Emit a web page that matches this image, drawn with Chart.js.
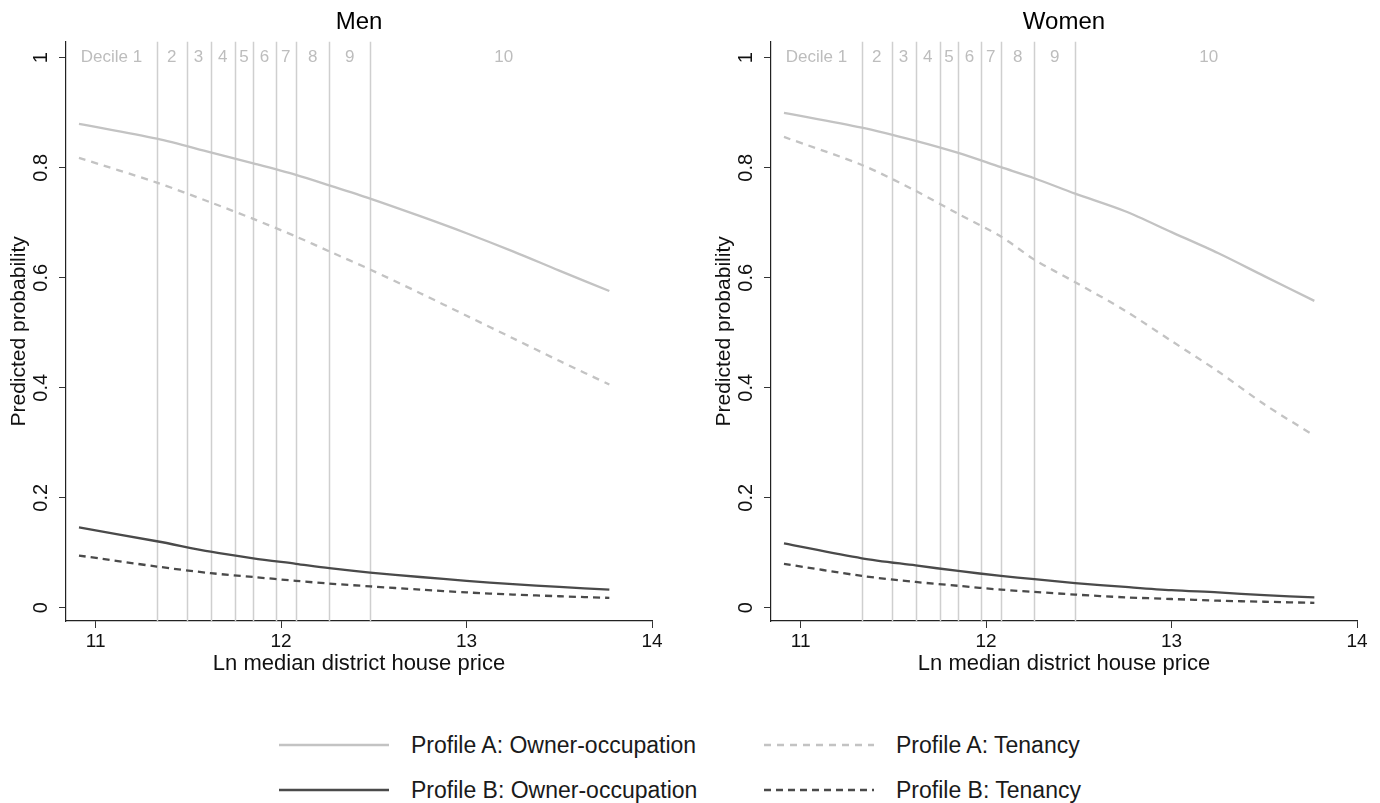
<!DOCTYPE html>
<html>
<head>
<meta charset="utf-8">
<script src="https://cdn.jsdelivr.net/npm/chart.js@4/dist/chart.umd.min.js"></script>
<style>
  html, body { margin: 0; padding: 0; background: #fff; }
  body { width: 1380px; height: 803px; position: relative; overflow: hidden; font-family: "Liberation Sans", Arial, sans-serif; }
  .panel { position: absolute; top: 0; width: 675px; height: 690px; }
  #legend { position: absolute; left: 0; top: 720px; width: 1380px; height: 83px; }
  .item { position: absolute; font-size: 23px; color: #1a1a1a; line-height: 26px; white-space: nowrap; }
  .item svg { position: absolute; left: -133px; top: 3px; }
</style>
</head>
<body>
<div class="panel" style="left:0"><canvas id="men"></canvas></div>
<div class="panel" style="left:705px"><canvas id="women"></canvas></div>
<div id="legend"></div>
<script>
// x values (ln median district house price) where the curves were read
const xs = [10.91, 11.33, 11.62, 11.85, 12.08, 12.26, 12.48, 12.75, 13.0, 13.25, 13.5, 13.77];

// Men
const menAOwner  = [0.880, 0.853, 0.828, 0.808, 0.787, 0.768, 0.744, 0.712, 0.681, 0.648, 0.613, 0.576];
const menATenant = [0.818, 0.773, 0.737, 0.707, 0.675, 0.648, 0.615, 0.572, 0.531, 0.490, 0.449, 0.406];
const menBOwner  = [0.146, 0.121, 0.102, 0.090, 0.080, 0.072, 0.064, 0.056, 0.049, 0.043, 0.038, 0.033];
const menBTenant = [0.095, 0.075, 0.063, 0.056, 0.049, 0.044, 0.039, 0.033, 0.028, 0.024, 0.021, 0.018];

// Women
const womenAOwner  = [0.900, 0.873, 0.849, 0.827, 0.801, 0.781, 0.753, 0.721, 0.683, 0.645, 0.603, 0.558];
const womenATenant = [0.856, 0.805, 0.758, 0.716, 0.675, 0.633, 0.592, 0.540, 0.485, 0.430, 0.370, 0.313];
const womenBOwner  = [0.117, 0.090, 0.077, 0.067, 0.058, 0.052, 0.045, 0.038, 0.032, 0.028, 0.023, 0.019];
const womenBTenant = [0.080, 0.058, 0.047, 0.040, 0.033, 0.029, 0.024, 0.019, 0.016, 0.013, 0.011, 0.009];

// decile boundaries and their labels
const decileCuts = [11.33, 11.49, 11.62, 11.75, 11.85, 11.97, 12.08, 12.26, 12.48];
const decileEdges = [10.84, ...decileCuts, 13.92];
const decileLabels = ['Decile 1', '2', '3', '4', '5', '6', '7', '8', '9', '10'];

const xTicks = [11, 12, 13, 14];
const yTicks = [0, 0.2, 0.4, 0.6, 0.8, 1];

const seriesNames = ['Profile A: Owner-occupation', 'Profile A: Tenancy', 'Profile B: Owner-occupation', 'Profile B: Tenancy'];
const LIGHT = '#c3c3c3';
const DARK = '#4a4a4a';
const styles = [
    { color: LIGHT, dash: [] },
    { color: LIGHT, dash: [7, 6] },
    { color: DARK, dash: [] },
    { color: DARK, dash: [7, 5] }
];

const FONT = '"Liberation Sans", Arial, sans-serif';

// vertical decile lines + labels
const decilePlugin = {
    id: 'deciles',
    beforeDatasetsDraw(chart) {
        const { ctx, chartArea, scales } = chart;
        ctx.save();
        ctx.strokeStyle = '#cfcfcf';
        ctx.lineWidth = 1.5;
        decileCuts.forEach(v => {
            const px = Math.round(scales.x.getPixelForValue(v)) + 0.5;
            ctx.beginPath();
            ctx.moveTo(px, chartArea.top);
            ctx.lineTo(px, chartArea.bottom);
            ctx.stroke();
        });
        ctx.fillStyle = '#bdbdbd';
        ctx.font = '17px ' + FONT;
        ctx.textAlign = 'center';
        ctx.textBaseline = 'middle';
        const ty = scales.y.getPixelForValue(1);
        decileLabels.forEach((lab, i) => {
            const mid = (decileEdges[i] + decileEdges[i + 1]) / 2;
            ctx.fillText(lab, scales.x.getPixelForValue(mid), ty);
        });
        ctx.restore();
    }
};

function makeChart(id, title, series) {
    const datasets = series.map((arr, i) => ({
        label: seriesNames[i],
        data: xs.map((x, j) => ({ x: x, y: arr[j] })),
        borderColor: styles[i].color,
        borderDash: styles[i].dash,
        borderWidth: 2.3,
        pointRadius: 0,
        tension: 0.3,
        fill: false
    }));

    return new Chart(document.getElementById(id), {
        type: 'line',
        data: { datasets },
        options: {
            responsive: false,
            animation: false,
            layout: { padding: { left: 7, right: 23, top: 0, bottom: 13 } },
            plugins: {
                legend: { display: false },
                tooltip: { enabled: false },
                title: {
                    display: true,
                    fullSize: false,
                    text: title,
                    color: '#000',
                    font: { family: FONT, size: 24, weight: 'normal' },
                    padding: { top: 8, bottom: 5 }
                }
            },
            scales: {
                x: {
                    type: 'linear',
                    min: 10.84,
                    max: 14,
                    afterBuildTicks(scale) { scale.ticks = xTicks.map(v => ({ value: v })); },
                    afterFit(scale) { scale.height = 56; },
                    grid: { drawOnChartArea: false, drawTicks: true, tickLength: 7, color: '#333', lineWidth: 1 },
                    border: { display: true, color: '#222', width: 1.2 },
                    ticks: { color: '#111', font: { family: FONT, size: 19 }, padding: 2, maxRotation: 0 },
                    title: {
                        display: true,
                        text: 'Ln median district house price',
                        color: '#111',
                        font: { family: FONT, size: 22 },
                        padding: { top: 0, bottom: 0 }
                    }
                },
                y: {
                    min: -0.024,
                    max: 1.029,
                    afterBuildTicks(scale) { scale.ticks = yTicks.map(v => ({ value: v })); },
                    afterFit(scale) { scale.width = 59; },
                    grid: { drawOnChartArea: false, drawTicks: true, tickLength: 7, color: '#333', lineWidth: 1 },
                    border: { display: true, color: '#222', width: 1.2 },
                    ticks: {
                        color: '#111',
                        font: { family: FONT, size: 20 },
                        minRotation: 90,
                        maxRotation: 90,
                        crossAlign: 'center',
                        padding: 4,
                        callback: v => (v === 0 || v === 1) ? String(v) : v.toFixed(1)
                    },
                    title: {
                        display: true,
                        text: 'Predicted probability',
                        color: '#111',
                        font: { family: FONT, size: 21 },
                        padding: { top: 0, bottom: 0 }
                    }
                }
            }
        },
        plugins: [decilePlugin]
    });
}

['men', 'women'].forEach(id => {
    const c = document.getElementById(id);
    c.width = 675;
    c.height = 690;
});

makeChart('men', 'Men', [menAOwner, menATenant, menBOwner, menBTenant]);
makeChart('women', 'Women', [womenAOwner, womenATenant, womenBOwner, womenBTenant]);

// shared legend below the two panels
const legendPos = [
    { left: 411, top: 12 },
    { left: 896, top: 12 },
    { left: 411, top: 57 },
    { left: 896, top: 57 }
];
const legend = document.getElementById('legend');
seriesNames.forEach((name, i) => {
    const d = document.createElement('div');
    d.className = 'item';
    d.style.left = legendPos[i].left + 'px';
    d.style.top = legendPos[i].top + 'px';
    const dash = styles[i].dash.length ? `stroke-dasharray="${styles[i].dash.join(' ')}"` : '';
    d.innerHTML = `<svg width="112" height="20"><line x1="1" y1="10" x2="111" y2="10" stroke="${styles[i].color}" stroke-width="2.4" ${dash}/></svg>${name}`;
    legend.appendChild(d);
});
</script>
</body>
</html>
